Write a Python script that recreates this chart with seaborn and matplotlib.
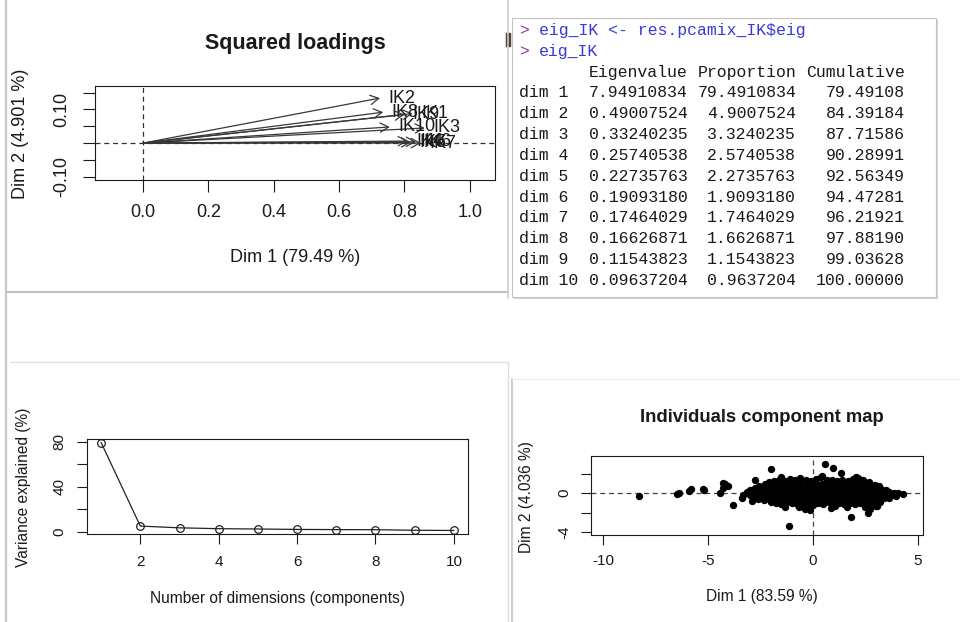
import matplotlib
matplotlib.use("Agg")
import matplotlib.pyplot as plt
import seaborn as sns
from matplotlib.lines import Line2D
from matplotlib.patches import Rectangle

W, H = 960, 622

# res.pcamix_IK$eig
dim_names = ["dim 1", "dim 2", "dim 3", "dim 4", "dim 5",
             "dim 6", "dim 7", "dim 8", "dim 9", "dim 10"]
eigenvalue = [7.94910834, 0.49007524, 0.33240235, 0.25740538, 0.22735763,
              0.19093180, 0.17464029, 0.16626871, 0.11543823, 0.09637204]
proportion = [79.4910834, 4.9007524, 3.3240235, 2.5740538, 2.2735763,
              1.9093180, 1.7464029, 1.6626871, 1.1543823, 0.9637204]
cumulative = [79.49108, 84.39184, 87.71586, 90.28991, 92.56349,
              94.47281, 96.21921, 97.88190, 99.03628, 100.00000]
n_dims = [1, 2, 3, 4, 5, 6, 7, 8, 9, 10]

# squared loadings
var_names = ["IK1", "IK2", "IK3", "IK4", "IK5", "IK6", "IK7", "IK8", "IK9", "IK10"]
sqload_dim1 = [0.825, 0.725, 0.862, 0.810, 0.820, 0.835, 0.850, 0.735, 0.800, 0.755]
sqload_dim2 = [0.088, 0.134, 0.045, 0.006, 0.002, 0.004, 0.000, 0.092, 0.085, 0.048]

# individuals (dim 1, dim 2), estimated from the cloud
ind_coords = [
    # outliers / left tail
    (-8.30, -0.30), (-6.48, -0.13), (-6.38, 0.03), (-5.90, 0.20), (-5.80, 0.40),
    (-5.19, 0.28), (-5.24, 0.40), (-4.43, 0.03), (-4.29, 0.54), (-4.19, 0.89),
    (-4.05, 0.72), (-4.29, 1.00), (-3.82, -1.26), (-3.40, -0.48), (-3.33, -0.20),
    (-2.92, -0.82), (-2.76, 1.33), (-2.00, 2.49), (-1.13, -3.38),
    (0.57, 2.94), (0.97, 2.60), (1.32, 2.08), (1.80, -2.46), (2.62, -2.00), (3.03, -1.33),
    # top bumps
    (-1.50, 1.60), (0.45, 1.75), (2.05, 1.65),
    # row ~1.3
    (-2.10, 1.10), (-1.85, 1.25), (-1.60, 1.35), (-1.35, 1.20), (-1.10, 1.40),
    (-0.85, 1.30), (-0.60, 1.55), (-0.35, 1.35), (-0.10, 1.25), (0.15, 1.40),
    (0.40, 1.65), (0.65, 1.30), (0.90, 1.35), (1.15, 1.20), (1.40, 1.30),
    (1.65, 1.25), (1.90, 1.40), (2.15, 1.55), (2.40, 1.30), (2.65, 1.15),
    # row ~0.9
    (-2.55, 0.75), (-2.30, 0.90), (-2.05, 0.85), (-1.80, 0.95), (-1.55, 0.80),
    (-1.30, 0.90), (-1.05, 1.00), (-0.80, 0.85), (-0.55, 0.95), (-0.30, 0.90),
    (-0.05, 0.80), (0.20, 0.95), (0.45, 0.90), (0.70, 1.00), (0.95, 0.85),
    (1.20, 0.90), (1.45, 0.95), (1.70, 0.80), (1.95, 0.90), (2.20, 1.00),
    (2.45, 0.85), (2.70, 0.90), (2.95, 0.80), (3.15, 0.70),
    # row ~0.5
    (-3.00, 0.35), (-2.75, 0.50), (-2.50, 0.45), (-2.25, 0.55), (-2.00, 0.40),
    (-1.75, 0.50), (-1.50, 0.60), (-1.25, 0.45), (-1.00, 0.55), (-0.75, 0.50),
    (-0.50, 0.40), (-0.25, 0.55), (0.00, 0.50), (0.25, 0.45), (0.50, 0.60),
    (0.75, 0.50), (1.00, 0.40), (1.25, 0.55), (1.50, 0.50), (1.75, 0.45),
    (2.00, 0.60), (2.25, 0.50), (2.50, 0.45), (2.75, 0.55), (3.00, 0.50),
    (3.25, 0.40), (3.50, 0.35),
    # row ~0.1
    (-3.15, 0.10), (-2.90, 0.15), (-2.65, 0.05), (-2.40, 0.20), (-2.15, 0.10),
    (-1.90, 0.05), (-1.65, 0.15), (-1.40, 0.10), (-1.15, 0.20), (-0.90, 0.05),
    (-0.65, 0.10), (-0.40, 0.15), (-0.15, 0.05), (0.10, 0.10), (0.35, 0.20),
    (0.60, 0.05), (0.85, 0.15), (1.10, 0.10), (1.35, 0.00), (1.60, 0.15),
    (1.85, 0.10), (2.10, 0.05), (2.35, 0.20), (2.60, 0.10), (2.85, 0.00),
    (3.10, 0.15), (3.35, 0.05), (3.60, 0.10), (3.85, 0.00), (4.05, 0.05), (4.30, -0.05),
    # row ~-0.3
    (-3.00, -0.25), (-2.75, -0.35), (-2.50, -0.20), (-2.25, -0.30), (-2.00, -0.40),
    (-1.75, -0.25), (-1.50, -0.30), (-1.25, -0.35), (-1.00, -0.20), (-0.75, -0.30),
    (-0.50, -0.40), (-0.25, -0.25), (0.00, -0.30), (0.25, -0.35), (0.50, -0.20),
    (0.75, -0.30), (1.00, -0.40), (1.25, -0.25), (1.50, -0.30), (1.75, -0.35),
    (2.00, -0.20), (2.25, -0.30), (2.50, -0.40), (2.75, -0.25), (3.00, -0.30),
    (3.25, -0.35), (3.50, -0.25), (3.75, -0.20), (3.95, -0.30),
    # row ~-0.7
    (-2.60, -0.60), (-2.35, -0.75), (-2.10, -0.65), (-1.85, -0.70), (-1.60, -0.80),
    (-1.35, -0.65), (-1.10, -0.70), (-0.85, -0.75), (-0.60, -0.60), (-0.35, -0.70),
    (-0.10, -0.80), (0.15, -0.65), (0.40, -0.70), (0.65, -0.75), (0.90, -0.60),
    (1.15, -0.70), (1.40, -0.80), (1.65, -0.65), (1.90, -0.70), (2.15, -0.75),
    (2.40, -0.60), (2.65, -0.70), (2.90, -0.80), (3.15, -0.65), (3.40, -0.55), (3.60, -0.50),
    # row ~-1.05
    (-2.00, -0.95), (-1.75, -1.05), (-1.50, -1.10), (-1.25, -0.95), (-1.00, -1.05),
    (-0.75, -1.15), (-0.50, -1.00), (-0.25, -1.10), (0.00, -1.20), (0.25, -1.05),
    (0.50, -1.10), (0.75, -0.95), (1.00, -1.15), (1.25, -1.05), (1.50, -1.10),
    (1.75, -1.00), (2.00, -1.15), (2.25, -1.05), (2.50, -1.00), (2.75, -1.10),
    (3.00, -0.95), (3.20, -0.90),
    # lower dips
    (-1.35, -1.40), (-0.65, -1.45), (-0.40, -1.60), (-0.15, -1.75), (0.85, -1.50),
    (1.05, -1.35), (1.60, -1.40), (2.50, -1.45), (2.70, -1.60), (3.00, -1.35),
]
ind_dim1 = [p[0] for p in ind_coords]
ind_dim2 = [p[1] for p in ind_coords]

sns.set_theme(style="white")
plt.rcParams["font.family"] = ["Liberation Sans", "DejaVu Sans"]
ink = "#1a1a1a"

fig = plt.figure(figsize=(9.6, 6.22), dpi=100)
fig.patch.set_facecolor("white")


def fx(x):
    return x / W


def fy(y):
    return 1 - y / H


def add_box(x0, y0, x1, y1):
    return fig.add_axes([fx(x0), fy(y1), (x1 - x0) / W, (y1 - y0) / H])


def line(xs, ys, color, lw):
    fig.add_artist(Line2D([fx(x) for x in xs], [fy(y) for y in ys],
                          color=color, lw=lw, transform=fig.transFigure))


def style_axes(ax, size, tick_len, pad):
    ax.set_facecolor("white")
    for s in ax.spines.values():
        s.set_color(ink)
        s.set_linewidth(0.8)
    ax.tick_params(bottom=True, left=True, direction="out", length=tick_len,
                   width=0.8, pad=pad, labelsize=size, colors=ink)


dash = (0, (4, 3))

# ---- RStudio pane borders
line([6, 6], [0, 622], "#c3c8cf", 1.6)
line([7, 508], [292, 292], "#bfbfbf", 1.5)
line([508, 508], [0, 298], "#cdcdcd", 1.2)
line([10, 508], [362, 362], "#dcdcdc", 0.9)
line([508, 508], [362, 622], "#dcdcdc", 0.9)
line([512, 512], [379, 622], "#d0d0d0", 1.5)
line([512, 960], [379, 379], "#ececec", 0.8)
fig.add_artist(Rectangle((fx(506), fy(46)), 4 / W, 13 / H, color="#4a4038",
                         transform=fig.transFigure))

# ---- Squared loadings
ax1 = add_box(95, 86, 495, 180)
style_axes(ax1, 13, 8.5, 9)
ax1.set_xlim(-0.147, 1.077)
ax1.set_ylim(-0.110, 0.170)
ax1.axhline(0, color="#333333", lw=0.9, ls=dash)
ax1.axvline(0, color="#333333", lw=0.9, ls=dash)
for name, x, y in zip(var_names, sqload_dim1, sqload_dim2):
    ax1.annotate("", xy=(x, y), xytext=(0, 0),
                 arrowprops=dict(arrowstyle="->,head_length=0.5,head_width=0.28",
                                 color="#383838", lw=0.9, shrinkA=0, shrinkB=0,
                                 mutation_scale=12))
    ax1.annotate(name, xy=(x, y), xytext=(6, 0), textcoords="offset points",
                 ha="left", va="center", fontsize=13, color=ink, annotation_clip=False)
ax1.set_xticks([0, 0.2, 0.4, 0.6, 0.8, 1.0])
ax1.set_xticklabels(["0.0", "0.2", "0.4", "0.6", "0.8", "1.0"])
ax1.set_yticks([-0.10, -0.05, 0, 0.05, 0.10, 0.15])
ax1.set_yticklabels(["-0.10", "", "", "", "0.10", ""], rotation=90, va="center")
fig.text(fx(295), fy(43), "Squared loadings", ha="center", va="center",
         fontsize=15.5, fontweight="bold", color=ink)
fig.text(fx(295), fy(257), "Dim 1 (79.49 %)", ha="center", va="center",
         fontsize=13, color=ink)
fig.text(fx(21), fy(134), "Dim 2 (4.901 %)", ha="center", va="center",
         fontsize=13, rotation=90, color=ink)

# ---- console output of eig_IK
fig.add_artist(Rectangle((fx(514), fy(299)), 424 / W, 279 / H, facecolor="#d4d4d4",
                         edgecolor="none", transform=fig.transFigure))
fig.add_artist(Rectangle((fx(512), fy(297)), 424 / W, 279 / H, facecolor="white",
                         edgecolor="#c4c4c4", lw=0.8, transform=fig.transFigure))
mono = dict(family="Liberation Mono", fontsize=11.9, va="baseline")
cw = 9.9
x0 = 519
row_y = [30 + i * 20.83 for i in range(13)]
console = [("> ", "eig_IK <- res.pcamix_IK$eig"), ("> ", "eig_IK")]
for (prompt, cmd), yc in zip(console, row_y[:2]):
    fig.text(fx(x0), fy(yc + 5), prompt.strip(), color="#9b3f91", **mono)
    fig.text(fx(x0 + 2 * cw), fy(yc + 5), cmd, color="#3a3ad8", **mono)

# each column is placed by its right edge so the monospace grid stays aligned
col_ends = [17, 28, 39]
headers = ["Eigenvalue", "Proportion", "Cumulative"]
for hdr, ce in zip(headers, col_ends):
    fig.text(fx(x0 + ce * cw), fy(row_y[2] + 5), hdr, color=ink, ha="right", **mono)
for nm, ev, pr, cu, yc in zip(dim_names, eigenvalue, proportion, cumulative, row_y[3:]):
    fig.text(fx(x0), fy(yc + 5), nm, color=ink, ha="left", **mono)
    cells = [f"{ev:.8f}", f"{pr:.7f}", f"{cu:.5f}"]
    for cell, ce in zip(cells, col_ends):
        fig.text(fx(x0 + ce * cw), fy(yc + 5), cell, color=ink, ha="right", **mono)

# ---- Scree plot
ax2 = add_box(87, 439, 468, 534)
style_axes(ax2, 11, 7, 8)
sns.lineplot(x=n_dims, y=proportion, ax=ax2, color="#222222", lw=0.9,
             marker="o", markersize=5.5, markerfacecolor="none",
             markeredgecolor="#222222", markeredgewidth=0.9)
ax2.set_xlim(0.64, 10.36)
ax2.set_ylim(-2.18, 82.63)
ax2.set_xticks([2, 4, 6, 8, 10])
ax2.set_xticklabels(["2", "4", "6", "8", "10"])
ax2.set_yticks([0, 20, 40, 60, 80])
ax2.set_yticklabels(["0", "", "40", "", "80"], rotation=90, va="center")
ax2.set_xlabel("")
ax2.set_ylabel("")
fig.text(fx(277), fy(599), "Number of dimensions (components)", ha="center",
         va="center", fontsize=11.2, color=ink)
fig.text(fx(24), fy(487), "Variance explained (%)", ha="center", va="center",
         fontsize=11.2, rotation=90, color=ink)

# ---- Individuals component map
ax3 = add_box(591, 456, 923, 535)
style_axes(ax3, 11, 7, 7)
ax3.axhline(0, color="#444444", lw=0.9, ls=dash, zorder=1)
ax3.axvline(0, color="#444444", lw=0.9, ls=dash, zorder=1)
sns.scatterplot(x=ind_dim1, y=ind_dim2, ax=ax3, color="black", s=28,
                linewidth=0, zorder=2)
ax3.set_xlim(-10.57, 5.24)
ax3.set_ylim(-4.3, 3.8)
ax3.set_xticks([-10, -5, 0, 5])
ax3.set_xticklabels(["-10", "-5", "0", "5"])
ax3.set_yticks([-4, -2, 0, 2])
ax3.set_yticklabels(["-4", "", "0", ""], rotation=90, va="center")
fig.text(fx(762), fy(418), "Individuals component map", ha="center", va="center",
         fontsize=13.3, fontweight="bold", color=ink)
fig.text(fx(762), fy(597), "Dim 1 (83.59 %)", ha="center", va="center",
         fontsize=11.2, color=ink)
fig.text(fx(527), fy(497), "Dim 2 (4.036 %)", ha="center", va="center",
         fontsize=11.2, rotation=90, color=ink)

fig.savefig("out.png", dpi=100, facecolor="white")
